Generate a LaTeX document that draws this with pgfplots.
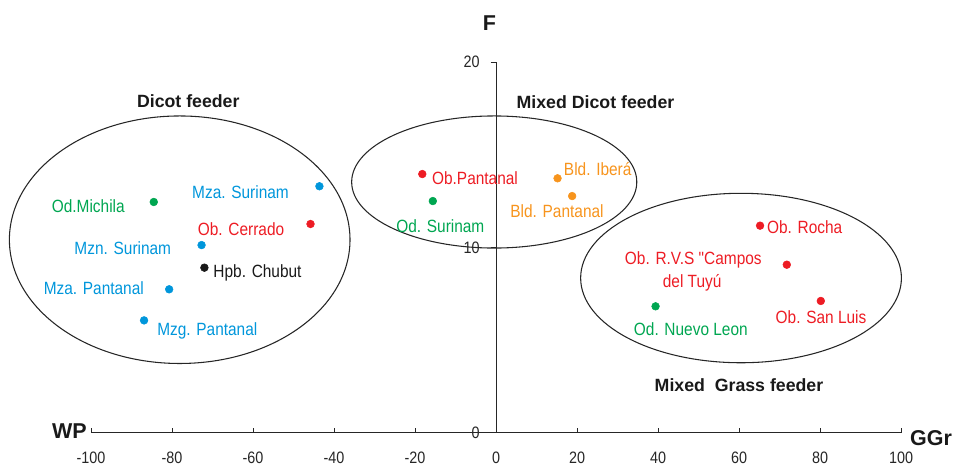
\documentclass[border=0pt]{standalone}
\usepackage{fontspec}
\setmainfont{Liberation Sans}
\newfontfamily\lblfont[FakeStretch=0.87]{Liberation Sans}
\usepackage{pgfplots}
\pgfplotsset{compat=1.18}
\definecolor{cred}{RGB}{237,28,36}
\definecolor{cgreen}{RGB}{0,166,81}
\definecolor{cblue}{RGB}{0,150,219}
\definecolor{corange}{RGB}{247,148,29}
\tikzset{
  lbl/.style={font=\lblfont\fontsize{13.3}{16}\selectfont, inner sep=0pt, anchor=base},
  ttl/.style={font=\bfseries\fontsize{13.3}{16}\selectfont, inner sep=0pt, anchor=base, text=black!90},
  big/.style={font=\bfseries\fontsize{16.1}{19}\selectfont, inner sep=0pt, anchor=base, text=black!90},
  ell/.style={line width=0.8pt, black!85},
}
\begin{document}
\begin{tikzpicture}
\begin{axis}[
  width=607.5pt, height=277.5pt, scale only axis,
  xmin=-100, xmax=100, ymin=0, ymax=20,
  axis lines=middle,
  axis line style={-, line width=0.75pt, black!85},
  clip=false,
  xtick={-100,-80,...,100}, ytick={0,10,20},
  hide obscured x ticks=false, hide obscured y ticks=false,
  tick align=center,
  major tick length=4pt,
  tick style={line width=0.75pt, black!85},
  x tick style={yshift=1.5pt},
  y tick style={xshift=-2pt},
  /pgf/number format/assume math mode=true,
  ticklabel style={font=\lblfont\fontsize{12.4}{14}\selectfont, text=black!85, inner sep=0pt},
  xticklabel style={anchor=center, yshift=-17pt},
  yticklabel style={anchor=east, xshift=-10pt},
]
% ellipses (groups)
\draw[ell] (axis cs:-78.1,10.41) ellipse [x radius=42.05, y radius=6.69];
\draw[ell] (axis cs:-0.44,13.53) ellipse [x radius=35.2, y radius=3.57];
\draw[ell] (axis cs:60.5,8.34) ellipse [x radius=39.6, y radius=4.58];

% points
\addplot[only marks, mark=*, mark size=2.9pt, color=cred] coordinates {
 (-45.8,11.26) (-18.2,13.96) (65.2,11.17) (71.8,9.06) (80.2,7.1)};
\addplot[only marks, mark=*, mark size=2.9pt, color=cgreen] coordinates {
 (-84.5,12.45) (-15.6,12.5) (39.4,6.81)};
\addplot[only marks, mark=*, mark size=2.9pt, color=cblue] coordinates {
 (-43.6,13.3) (-72.7,10.12) (-80.7,7.73) (-86.9,6.05)};
\addplot[only marks, mark=*, mark size=2.9pt, color=corange] coordinates {
 (15.2,13.73) (18.8,12.77)};
\addplot[only marks, mark=*, mark size=2.9pt, color=black!90] coordinates {
 (-72.0,8.9)};

% point labels
\node[lbl, text=cgreen] at (axis cs:-100.67,11.90) {Od.Michila};
\node[lbl, text=cblue] at (axis cs:-63.09,12.62) {Mza. Surinam};
\node[lbl, text=cred] at (axis cs:-62.96,10.64) {Ob. Cerrado};
\node[lbl, text=cblue] at (axis cs:-92.15,9.60) {Mzn. Surinam};
\node[lbl, text=black!90] at (axis cs:-58.89,8.39) {Hpb. Chubut};
\node[lbl, text=cblue] at (axis cs:-99.31,7.43) {Mza. Pantanal};
\node[lbl, text=cblue] at (axis cs:-71.28,5.25) {Mzg. Pantanal};
\node[lbl, text=cred] at (axis cs:-5.19,13.38) {Ob.Pantanal};
\node[lbl, text=cgreen] at (axis cs:-13.75,10.80) {Od. Surinam};
\node[lbl, text=corange] at (axis cs:25.11,13.86) {Bld. Iberá};
\node[lbl, text=corange] at (axis cs:15.06,11.63) {Bld. Pantanal};
\node[lbl, text=cred] at (axis cs:76.22,10.73) {Ob. Rocha};
\node[lbl, text=cred] at (axis cs:48.72,9.09) {Ob. R.V.S "Campos};
\node[lbl, text=cred] at (axis cs:48.44,7.83) {del Tuyú};
\node[lbl, text=cred] at (axis cs:80.25,5.88) {Ob. San Luis};
\node[lbl, text=cgreen] at (axis cs:48.10,5.23) {Od. Nuevo Leon};

% group titles
\node[ttl] at (axis cs:-75.98,17.57) {Dicot feeder};
\node[ttl] at (axis cs:24.57,17.50) {Mixed Dicot feeder};
\node[ttl] at (axis cs:60.0,2.23) {Mixed~~Grass feeder};

% axis names
\node[big] at (axis cs:-1.65,21.73) {F};
\node[big] at (axis cs:-105.31,-0.35) {WP};
\node[big] at (axis cs:107.41,-0.73) {GGr};

\coordinate (BL) at (axis cs:-122.47,-1.768);
\coordinate (TR) at (axis cs:113.58,23.368);
\end{axis}
\pgfresetboundingbox
\path[use as bounding box] (BL) rectangle (TR);
\end{tikzpicture}
\end{document}
